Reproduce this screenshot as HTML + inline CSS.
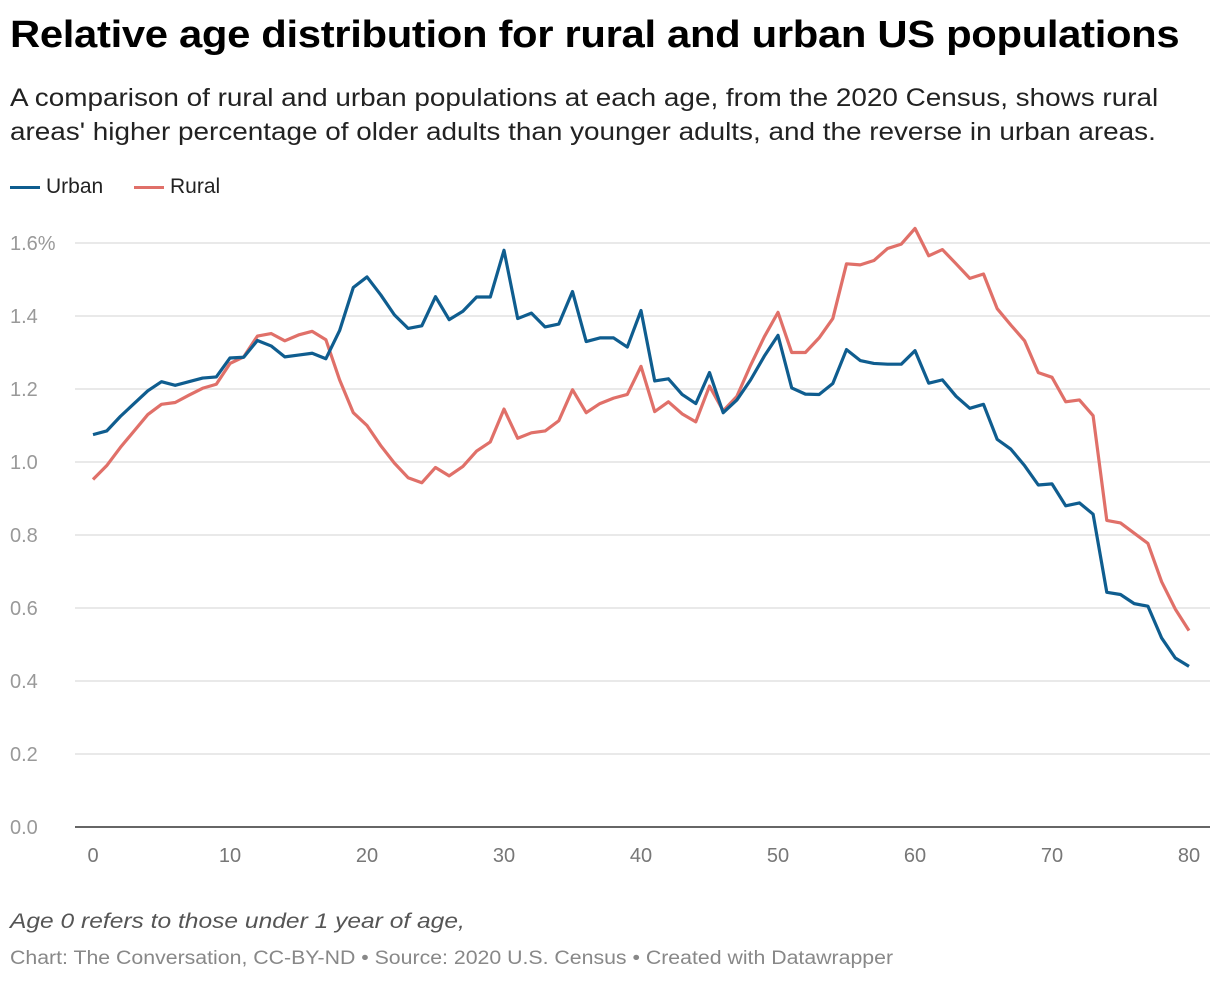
<!DOCTYPE html>
<html><head><meta charset="utf-8"><style>
body{margin:0;width:1220px;height:982px;background:#fff;font-family:"Liberation Sans",Arial,sans-serif;overflow:hidden;position:relative}
.t{position:absolute;left:10px;top:14px;font-size:38px;font-weight:bold;color:#000;letter-spacing:-0.3px;transform:scaleX(1.1);transform-origin:0 0;white-space:nowrap}
.s{position:absolute;left:10px;top:81px;font-size:25px;line-height:34px;color:#222;transform:scaleX(1.115);transform-origin:0 0;white-space:nowrap}
.lg{position:absolute;top:175px;font-size:21px;color:#222}
.n{position:absolute;left:10px;top:910px;font-size:21px;font-style:italic;color:#555;transform:scaleX(1.17);transform-origin:0 0;white-space:nowrap}
.f{position:absolute;left:10px;top:948px;font-size:19px;color:#888;transform:scaleX(1.12);transform-origin:0 0;white-space:nowrap}
</style></head><body>
<div class="t">Relative age distribution for rural and urban US populations</div>
<div class="s">A comparison of rural and urban populations at each age, from the 2020 Census, shows rural<br>areas' higher percentage of older adults than younger adults, and the reverse in urban areas.</div>
<div class="lg" style="left:10px"><span style="display:inline-block;width:30px;height:3px;background:#0f5d8f;vertical-align:middle;margin-right:6px"></span>Urban</div>
<div class="lg" style="left:134px"><span style="display:inline-block;width:30px;height:3px;background:#e07069;vertical-align:middle;margin-right:6px"></span>Rural</div>
<svg id="c" width="1220" height="982" style="position:absolute;left:0;top:0"></svg>
<div class="n">Age 0 refers to those under 1 year of age,</div>
<div class="f">Chart: The Conversation, CC-BY-ND • Source: 2020 U.S. Census • Created with Datawrapper</div>
<script>
const urban=[1.075,1.085,1.125,1.16,1.195,1.22,1.21,1.22,1.23,1.233,1.285,1.287,1.333,1.318,1.288,1.293,1.298,1.283,1.36,1.478,1.507,1.458,1.403,1.366,1.373,1.453,1.39,1.413,1.452,1.452,1.58,1.393,1.408,1.37,1.378,1.467,1.33,1.34,1.34,1.315,1.415,1.222,1.228,1.185,1.16,1.245,1.135,1.17,1.225,1.29,1.347,1.203,1.186,1.185,1.215,1.308,1.278,1.27,1.268,1.268,1.305,1.216,1.225,1.18,1.147,1.158,1.062,1.035,0.99,0.937,0.94,0.88,0.888,0.857,0.643,0.637,0.612,0.605,0.518,0.463,0.44];
const rural=[0.952,0.99,1.04,1.085,1.13,1.158,1.163,1.183,1.202,1.213,1.27,1.288,1.345,1.352,1.332,1.348,1.358,1.335,1.225,1.135,1.1,1.045,0.997,0.957,0.943,0.985,0.962,0.988,1.03,1.055,1.145,1.065,1.08,1.085,1.113,1.198,1.135,1.16,1.175,1.185,1.262,1.138,1.165,1.132,1.11,1.208,1.14,1.18,1.265,1.343,1.41,1.3,1.3,1.34,1.393,1.543,1.54,1.552,1.585,1.597,1.64,1.565,1.582,1.543,1.503,1.515,1.42,1.375,1.332,1.245,1.232,1.165,1.17,1.127,0.84,0.833,0.805,0.777,0.672,0.597,0.538];
const yTicks=[0,0.2,0.4,0.6,0.8,1.0,1.2,1.4,1.6];
const yLabels=["0.0","0.2","0.4","0.6","0.8","1.0","1.2","1.4","1.6%"];
const xTicks=[0,10,20,30,40,50,60,70,80];
const svg=document.getElementById('c');const NS='http://www.w3.org/2000/svg';
const X=a=>93+a*(1189-93)/80, Y=v=>827-v*(827-243)/1.6;
function mk(t,at){const e=document.createElementNS(NS,t);for(const k in at)e.setAttribute(k,at[k]);svg.appendChild(e);return e;}
yTicks.forEach((v,i)=>{
 const l=mk('line',{x1:75,x2:1210,y1:Y(v),y2:Y(v),stroke:v===0?'#333':'#e2e2e2','stroke-width':1.5});
 
 
 const t=mk('text',{x:10,y:Y(v)+7,'font-size':20,fill:'#999','font-family':'Liberation Sans,sans-serif'});
 t.textContent=yLabels[i];
 
 
});
xTicks.forEach(v=>{
 const t=mk('text',{x:X(v),y:862,'font-size':20,fill:'#777','text-anchor':'middle','font-family':'Liberation Sans,sans-serif'});
 t.textContent=v;
 
 
});
[[rural,'#e07069','rural-line'],[urban,'#0f5d8f','urban-line']].forEach(([d,c,n])=>{
 const p=mk('polyline',{points:d.map((v,i)=>X(i)+','+Y(v)).join(' '),fill:'none',stroke:c,'stroke-width':3.2,'stroke-linejoin':'round'});
 
 
});
</script>
</body></html>
